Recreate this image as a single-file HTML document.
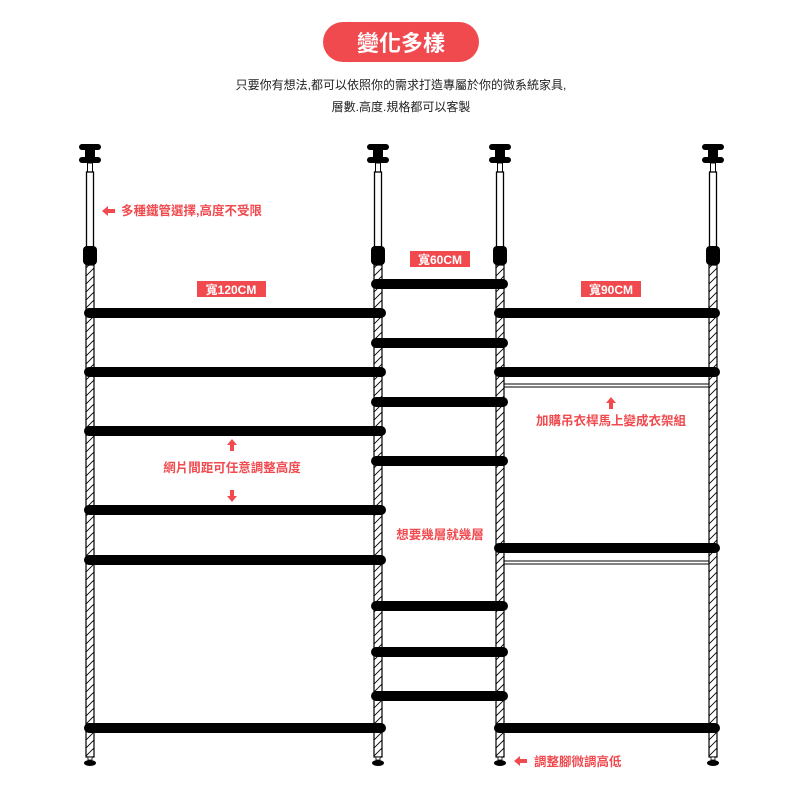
<!DOCTYPE html>
<html><head><meta charset="utf-8"><style>
body{margin:0;background:#fff;}
svg{display:block}
text{font-family:"Liberation Sans","Noto Sans CJK TC",sans-serif;}
</style></head><body>
<svg width="800" height="800" viewBox="0 0 800 800" xmlns="http://www.w3.org/2000/svg">
<defs>
<pattern id="h" width="8" height="8" patternUnits="userSpaceOnUse">
<rect width="8" height="8" fill="#fff"/>
<path d="M0 8 L8 0 M-2 2 L2 -2 M6 10 L10 6" stroke="#000" stroke-width="0.9"/>
</pattern>
<g id="pole">
<rect x="-11" y="144" width="22" height="6" rx="3" fill="#000"/>
<rect x="-5" y="149" width="10" height="10" fill="#000"/>
<rect x="-11" y="157" width="22" height="6" rx="3" fill="#000"/>
<rect x="-2.5" y="163" width="5" height="9" fill="#fff" stroke="#000" stroke-width="1"/>
<rect x="-3.5" y="172" width="7" height="76" fill="#fff" stroke="#000" stroke-width="1.3"/>
<rect x="-7" y="246" width="14" height="19" rx="4" fill="#000"/>
<rect x="-4" y="265" width="8" height="492" fill="url(#h)" stroke="#000" stroke-width="1.2"/>
<rect x="-2" y="757" width="4" height="3" fill="#fff" stroke="#000" stroke-width="0.8"/>
<ellipse cx="0" cy="763" rx="6" ry="3" fill="#000"/>
</g>
<path id="la" d="M0 0 L6 -5 L6 -2 L13 -2 L13 2 L6 2 L6 5 Z" fill="#f04a4f"/>
<path id="ua" d="M0 0 L-5 6 L-2 6 L-2 12 L2 12 L2 6 L5 6 Z" fill="#f04a4f"/>
</defs>
<rect x="323" y="22" width="156" height="40" rx="20" fill="#f04a4f"/>
<text x="401" y="51" font-size="22" font-weight="bold" fill="#fff" text-anchor="middle">變化多樣</text>
<text x="401" y="89" font-size="12" fill="#222" text-anchor="middle">只要你有想法,都可以依照你的需求打造專屬於你的微系統家具,</text>
<text x="401" y="111" font-size="12" fill="#222" text-anchor="middle">層數.高度.規格都可以客製</text>

<use href="#pole" x="90"/>
<use href="#pole" x="378"/>
<use href="#pole" x="500"/>
<use href="#pole" x="713"/>

<g stroke="#000" stroke-width="10" stroke-linecap="round">
<line x1="89" y1="313" x2="381" y2="313"/>
<line x1="89" y1="372" x2="381" y2="372"/>
<line x1="89" y1="431" x2="381" y2="431"/>
<line x1="89" y1="510" x2="381" y2="510"/>
<line x1="89" y1="560" x2="381" y2="560"/>
<line x1="89" y1="728" x2="381" y2="728"/>
<line x1="376" y1="284" x2="503" y2="284"/>
<line x1="376" y1="343" x2="503" y2="343"/>
<line x1="376" y1="402" x2="503" y2="402"/>
<line x1="376" y1="461" x2="503" y2="461"/>
<line x1="376" y1="606" x2="503" y2="606"/>
<line x1="376" y1="652" x2="503" y2="652"/>
<line x1="376" y1="696" x2="503" y2="696"/>
<line x1="499" y1="313" x2="715" y2="313"/>
<line x1="499" y1="372" x2="715" y2="372"/>
<line x1="499" y1="548" x2="715" y2="548"/>
<line x1="499" y1="728" x2="715" y2="728"/>
</g>
<g stroke="#000" stroke-width="1">
<line x1="504" y1="384" x2="709" y2="384"/><line x1="504" y1="387" x2="709" y2="387"/>
<line x1="504" y1="561" x2="709" y2="561"/><line x1="504" y1="564" x2="709" y2="564"/>
</g>

<rect x="197" y="281" width="69" height="16" fill="#f04a4f"/>
<text x="231" y="294" font-size="12" font-weight="bold" fill="#fff" text-anchor="middle">寬120CM</text>
<rect x="410" y="251" width="60" height="16" fill="#f04a4f"/>
<text x="440" y="264" font-size="12" font-weight="bold" fill="#fff" text-anchor="middle">寬60CM</text>
<rect x="581" y="281" width="60" height="16" fill="#f04a4f"/>
<text x="611" y="294" font-size="12" font-weight="bold" fill="#fff" text-anchor="middle">寬90CM</text>

<use href="#la" x="102" y="211"/>
<use href="#la" x="514" y="761"/>
<use href="#ua" x="232" y="439"/>
<use href="#ua" x="611" y="397"/>
<path d="M232 502 L227 496 L230 496 L230 490 L234 490 L234 496 L237 496 Z" fill="#f04a4f"/>

<g fill="#f04a4f" font-size="12.5" font-weight="bold">
<text x="121" y="215">多種鐵管選擇,高度不受限</text>
<text x="232" y="472" text-anchor="middle">網片間距可任意調整高度</text>
<text x="440" y="539" text-anchor="middle">想要幾層就幾層</text>
<text x="611" y="425" text-anchor="middle">加購吊衣桿馬上變成衣架組</text>
<text x="534" y="766">調整腳微調高低</text>
</g>
</svg>
</body></html>
